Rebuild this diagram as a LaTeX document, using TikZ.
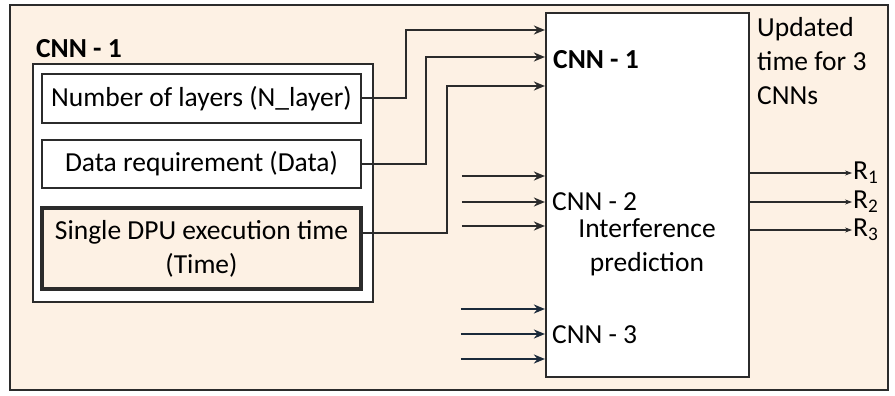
\documentclass[tikz,border=0pt]{standalone}
\usepackage{fontspec}
\setmainfont{Carlito}
\usetikzlibrary{arrows.meta,positioning}
\definecolor{peach}{HTML}{FDF1E4}
\definecolor{edge}{HTML}{2B2B2B}
\definecolor{navy}{HTML}{1B2A3A}

\begin{document}
\fontsize{27.5}{34}\selectfont
\begin{tikzpicture}[x=1pt, y=-1pt, every node/.style={inner sep=0pt},
    inbox/.style={draw=edge, line width=2.2pt, fill=white, minimum width=319pt, align=center},
    feed/.style={-{Stealth[length=11pt,width=9pt]}, line width=2pt, draw=edge},
    outarrow/.style={-{Stealth[length=7pt,width=5pt]}, line width=2pt, draw=edge}]
            \useasboundingbox (0,0) rectangle (895,396);

            % Outer frame
            \node[draw=edge, line width=2.2pt, fill=peach, minimum width=878pt, minimum height=385pt] (frame) at (449,197.5) {};

            % Parameters of one CNN
            \node[draw=edge, line width=2.2pt, fill=white, minimum width=340pt, minimum height=238pt] (group) at (203,183) {};
            \node[anchor=west, font=\bfseries] (grouplabel) at (36,49) {CNN - 1};
            \node[inbox, minimum height=49pt] (nlayer) at (201.5,98.5) {Number of layers (N\_layer)};
            \node[inbox, minimum height=48pt] (data) at (201.5,164) {Data requirement (Data)};
            \node[inbox, fill=peach, line width=3.6pt, minimum height=81pt] (time) at (201.5,248.5) {Single DPU execution time\\(Time)};

            % Predictor block
            \node[draw=edge, line width=2.2pt, fill=white, minimum width=203pt, minimum height=364pt] (pred) at (647.5,195) {};
            \node[anchor=west, font=\bfseries] (cnnone) at (553,60) {CNN - 1};
            \node[anchor=west] (cnntwo) at (552,202) {CNN - 2};
            \node[align=center] (interf) at (647,247) {Interference\\prediction};
            \node[anchor=west] (cnnthree) at (552,335) {CNN - 3};
            \node[anchor=north west, align=left] (updated) at (757,17) {Updated\\time for 3\\CNNs};

            % Inputs of CNN - 1
            \draw[feed] (nlayer.east) -- ++(44,0) |- (pred.west |- 0,30);
            \draw[feed] (data.east) -- ++(64,0) |- (pred.west |- 0,57);
            \draw[feed] ([yshift=16pt]time.east) -- ++(84,0) |- (pred.west |- 0,86);

            % Inputs of CNN - 2 and CNN - 3
            \foreach \y in {176,202,226}
                \draw[feed] (pred.west |- 0,\y) ++(-83,0) -- (pred.west |- 0,\y);
            \foreach \y in {309,334,359}
                \draw[feed, draw=navy, line width=2.8pt] (pred.west |- 0,\y) ++(-84,0) -- (pred.west |- 0,\y);

            % Outputs
            \foreach \y/\i in {173/1,202/2,230/3}
                \draw[outarrow] (pred.east |- 0,\y) -- ++(102,0) node[anchor=west] (r\i) {R\textsubscript{\i}};
        \end{tikzpicture}
\end{document}
